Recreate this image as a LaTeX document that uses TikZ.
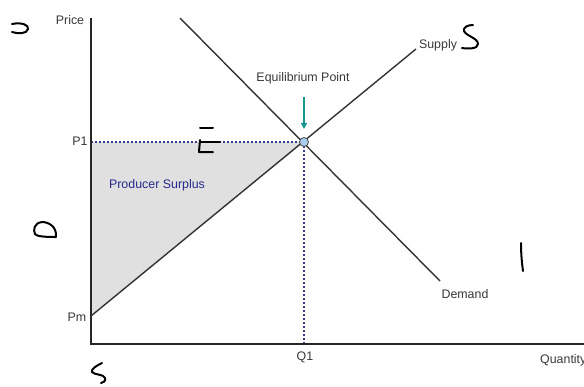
\documentclass[tikz,border=0pt]{standalone}
\usepackage{fontspec}
\setmainfont{Liberation Sans}
\usetikzlibrary{arrows.meta}
\begin{document}
\begin{tikzpicture}[x=1pt,y=-1pt,
  axis/.style={line width=1.6pt,draw=black!85},
  curve/.style={line width=1.4pt,draw=black!80},
  guide/.style={line width=1.8pt,draw={rgb,255:red,60;green,60;blue,140},dash pattern=on 1.8pt off 2.2pt},
  lbl/.style={font=\fontsize{12.4}{14}\selectfont,text=black!78,inner sep=1pt},
  hand/.style={line width=2pt,line cap=round,line join=round,draw=black}]
\useasboundingbox (0,0) rectangle (584,386);
% key points
\coordinate (O) at (91,344);
\coordinate (Ytop) at (91,18);
\coordinate (Xend) at (590,344);
\coordinate (Pm) at (91,316);
\coordinate (P1) at (91,142);
\coordinate (E) at (304,142);
\coordinate (Q1) at (304,344);
\coordinate (Sup) at (416,49);
\coordinate (Dtop) at (180,18);
\coordinate (Dend) at (440,281);
% surplus area
\fill[black!12] (P1) -- (E) -- (Pm) -- cycle;
% guides
\draw[guide] (P1) -- (E);
\draw[guide] (E) -- (Q1);
% axes
\draw[axis] (Ytop) -- (O) -- (Xend);
% curves
\draw[curve] (Pm) -- (Sup);
\draw[curve] (Dtop) -- (Dend);
% equilibrium
\node[circle,draw=black!70,fill={rgb,255:red,170;green,205;blue,235},minimum size=9pt,inner sep=0pt,line width=0.8pt] (Eq) at (E) {};
\coordinate (Atop) at (304,97);
\draw[-{Triangle[length=6pt,width=6pt]},line width=1.8pt,draw={rgb,255:red,20;green,150;blue,140}] (Atop) -- (304,129);
% labels
\node[lbl] (price) at (70,20) {Price};
\node[lbl] (p1) at (80,141) {P1};
\node[lbl] (pm) at (77,317) {Pm};
\node[lbl] (q1) at (305,357) {Q1};
\node[lbl,anchor=west] (qty) at (539,360) {Quantity};
\node[lbl] (supply) at (438,45) {Supply};
\node[lbl] (demand) at (465,294) {Demand};
\node[lbl] (eqp) at (303,78) {Equilibrium Point};
\node[lbl,text={rgb,255:red,40;green,40;blue,140}] (ps) at (157,185) {Producer Surplus};
% handwritten marks
\draw[hand] (12,24) .. controls (22,22) and (29,25) .. (28,29) .. controls (27,34) and (18,34) .. (12,32);
\draw[hand] (473,25) .. controls (468,25) and (463,27) .. (464,31) .. controls (466,36) and (478,38) .. (478,44) .. controls (478,49) and (468,49) .. (462,48);
\draw[hand] (200,128) -- (213,128);
\draw[hand] (200,142) -- (220,142);
\draw[hand] (200,140) -- (199,152) -- (213,152);
\draw[hand] (56,237) .. controls (57,226) and (48,222) .. (42,222) .. controls (34,223) and (33,230) .. (35,234) .. controls (37,237) and (50,237) .. (56,237);
\draw[hand] (521,243) .. controls (521,255) and (522,263) .. (523,271);
\draw[hand] (102,363) .. controls (96,366) and (91,369) .. (92,372) .. controls (94,375) and (104,374) .. (105,378) .. controls (106,381) and (103,383) .. (101,383);
\end{tikzpicture}
\end{document}
